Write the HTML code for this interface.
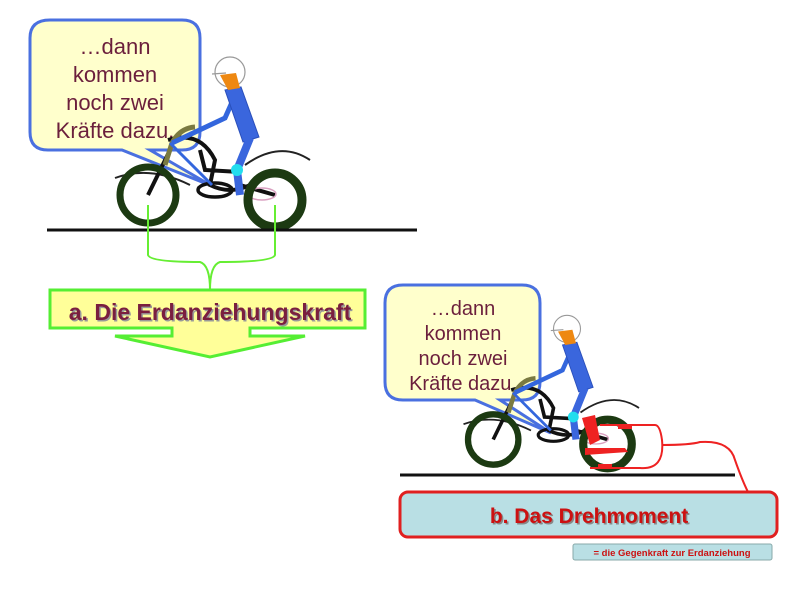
<!DOCTYPE html>
<html><head><meta charset="utf-8"><style>
html,body{margin:0;padding:0;background:#fff;}
svg{display:block}
text{font-family:"Liberation Sans",Arial,sans-serif;}
</style></head><body>
<svg width="800" height="600" viewBox="0 0 800 600" xmlns="http://www.w3.org/2000/svg">
<defs>
<g id="bike">
  <path d="M115,178 Q150,165 190,185" fill="none" stroke="#222" stroke-width="2"/>
  <path d="M245,165 Q280,140 310,160" fill="none" stroke="#222" stroke-width="2"/>
  <path d="M168,140 Q200,130 215,160 L210,185 Q230,195 250,185 M200,150 L205,170 L240,172" fill="none" stroke="#111" stroke-width="4"/>
  <ellipse cx="215" cy="190" rx="17" ry="7" fill="none" stroke="#111" stroke-width="3.5"/>
  <path d="M240,185 L275,195" stroke="#111" stroke-width="4"/>
  <ellipse cx="262" cy="194" rx="14" ry="6" fill="none" stroke="#d9a0c0" stroke-width="1.5"/>
  <path d="M148,195 L170,150" stroke="#111" stroke-width="4"/>
  <path d="M165,165 L172,143 Q180,128 195,127" fill="none" stroke="#7a7a40" stroke-width="5"/>
  <path d="M170,143 L212,185" stroke="#3366dd" stroke-width="3"/>
  <circle cx="148" cy="195" r="28" fill="none" stroke="#1c3a12" stroke-width="7"/>
  <circle cx="275" cy="200" r="27" fill="none" stroke="#1c3a12" stroke-width="9"/>
  <path d="M233,100 L225,118 L172,143" fill="none" stroke="#3366dd" stroke-width="5"/>
  <polygon points="225,90 241,87 259,137 243,142" fill="#3a66dd" stroke="#2a4fbb"/>
  <path d="M250,138 L237,170 L240,195" fill="none" stroke="#3a66dd" stroke-width="8"/>
  <circle cx="237" cy="170" r="6" fill="#22ddee"/>
  <circle cx="230" cy="72" r="15" fill="#fff" stroke="#999" stroke-width="1.2"/>
  <path d="M220,75 L236,73 L240,88 L228,90 Z" fill="#ee8811"/>
  <path d="M212,74 L226,73" stroke="#999" stroke-width="1.2"/>
</g>
</defs>

<!-- Scene 1 -->
<path d="M50,20 H182 Q200,20 200,38 V132 Q200,150 182,150 H150 L212,186 L122,150 H48 Q30,150 30,132 V38 Q30,20 50,20 Z" fill="#ffffcc" stroke="#4a70e0" stroke-width="3"/>
<g font-size="22" fill="#6b1f3c" text-anchor="middle">
<text x="115" y="54">…dann</text>
<text x="115" y="82">kommen</text>
<text x="115" y="110">noch zwei</text>
<text x="115" y="138">Kräfte dazu.</text>
</g>
<use href="#bike"/>
<line x1="47" y1="230" x2="417" y2="230" stroke="#111" stroke-width="3"/>
<path d="M148,205 V255 Q150,262 200,262 Q210,265 210,290 M275,205 V255 Q273,262 220,262 Q210,265 210,290" fill="none" stroke="#66ee33" stroke-width="2"/>
<path d="M50,290 H365 V328 H250 V336 H305 L210,357 L115,336 H172 V328 H50 Z" fill="#ffff99" stroke="#55ee33" stroke-width="3"/>
<text x="210" y="320" font-size="23" font-weight="bold" text-anchor="middle" fill="#999" transform="translate(1.5,1.5)">a. Die Erdanziehungskraft</text>
<text x="210" y="320" font-size="23" font-weight="bold" text-anchor="middle" fill="#7a1f3f">a. Die Erdanziehungskraft</text>

<!-- Scene 2 -->
<path d="M403,285 H522 Q540,285 540,303 V382 Q540,400 522,400 H500 L551,433 L475,400 H403 Q385,400 385,382 V303 Q385,285 403,285 Z" fill="#ffffcc" stroke="#4a70e0" stroke-width="3"/>
<g font-size="20" fill="#6b1f3c" text-anchor="middle">
<text x="463" y="315">…dann</text>
<text x="463" y="340">kommen</text>
<text x="463" y="365">noch zwei</text>
<text x="463" y="390">Kräfte dazu.</text>
</g>
<use href="#bike" transform="translate(360,264) scale(0.9)"/>
<path d="M582,418 L595,415 L600,440 L590,445 Z" fill="#ee2222"/>
<path d="M585,448 L625,448 L628,452 L585,455 Z" fill="#ee2222"/>
<path d="M600,425 H655 Q660,425 662,440 Q665,470 640,468 H590" fill="none" stroke="#ee2222" stroke-width="2"/>
<path d="M662,445 Q690,445 700,442 Q730,440 735,460 Q742,480 748,492" fill="none" stroke="#ee2222" stroke-width="2"/>
<path d="M618,427 H632 M598,466 H612" stroke="#ee2222" stroke-width="4"/>
<line x1="400" y1="475" x2="735" y2="475" stroke="#111" stroke-width="3"/>
<rect x="400" y="492" width="377" height="45" rx="8" fill="#b9dfe4" stroke="#e02020" stroke-width="3"/>
<text x="589" y="523" font-size="21" font-weight="bold" text-anchor="middle" fill="#888" transform="translate(1.5,1.5)">b. Das Drehmoment</text>
<text x="589" y="523" font-size="21" font-weight="bold" text-anchor="middle" fill="#cc1111">b. Das Drehmoment</text>
<rect x="573" y="544" width="199" height="16" rx="2" fill="#b9dfe4" stroke="#8aa" stroke-width="1"/>
<text x="672" y="556" font-size="9.5" font-weight="bold" text-anchor="middle" fill="#cc1111">= die Gegenkraft zur Erdanziehung</text>
</svg>
</body></html>
